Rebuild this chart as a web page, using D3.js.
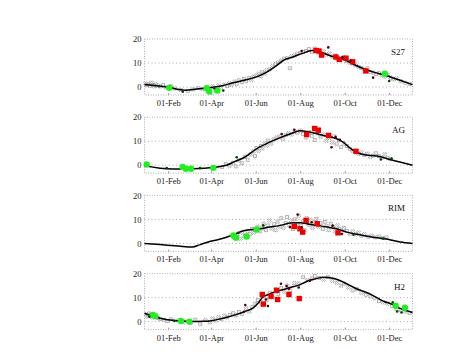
<!DOCTYPE html>
<html><head><meta charset="utf-8">
<script src="https://cdn.jsdelivr.net/npm/d3@7"></script>
<style>body{margin:0;background:#fff}svg{display:block}</style>
</head><body>
<script>
// ---------- data (day of year, value) ----------
const panelNames = ["S27", "AG", "RIM", "H2"];
const monthTicks = ["2001-02-01","2001-04-01","2001-06-01","2001-08-01","2001-10-01","2001-12-01"];
const yTicks = [0, 10, 20];

const lineS27 = [[-1.5,1.0],[15,0.5],[31,0],[45,-1],[55,-1.3],[70,-0.8],[90,-0.2],[105,0.5],[120,1.8],[135,2.8],[150,4],[165,6],[180,9],[190,11.3],[200,12.3],[215,14],[228,15.2],[240,14.5],[255,12.8],[270,11.8],[285,9.5],[300,7.5],[315,6],[330,4.8],[345,3.2],[366,1.0]];
const lineAG = [[-1.5,0],[10,-0.8],[29,-1.5],[45,-1.6],[64,-1.5],[80,-1.3],[92,-1.0],[104,-0.4],[111,0],[122,1.5],[134,3],[152,6.8],[170,9.6],[184,11.4],[198,13],[212,14.4],[225,13.8],[244,12.4],[262,11],[271,9.6],[280,7.2],[289,5.4],[298,4.5],[317,3.8],[335,2.4],[350,1.2],[366,0]];
const lineRIM = [[-1.5,0],[20,-0.5],[45,-1.1],[64,-1.5],[75,-0.5],[88,0.8],[100,1.6],[111,2.6],[122,3.8],[134,5.3],[146,5.8],[157,6.1],[168,6.7],[180,7.2],[190,7.9],[198,8.5],[212,8.6],[224,8.0],[235,7.5],[250,6.8],[262,6.1],[276,4.7],[288,3.9],[298,3.3],[312,2.6],[326,2.0],[338,1.3],[349,0.6],[366,0]];
const lineH2 = [[-1.5,3.5],[8,2.5],[20,1.4],[30,0.8],[43,0.4],[55,0.1],[66,0],[78,0.1],[88,0.3],[102,1.1],[114,2.0],[125,3.0],[136,4.2],[148,5.8],[155,8.0],[161,10.3],[168,11.2],[175,12.1],[184,12.9],[193,13.7],[202,14.5],[212,15.4],[218,16.3],[225,17.2],[234,17.9],[244,18.5],[257,18.1],[271,16.5],[280,15.1],[289,13.7],[296,12.9],[303,12.1],[312,10.8],[321,9.3],[328,8.3],[335,7.6],[342,6.6],[349,5.5],[357,4.6],[366,3.8]];

const grayS27 = [[0,1.5],[2,0.8],[4,1.2],[6,0.5],[8,1.8],[10,0.9],[12,0.3],[14,1.1],[16,0.6],[20,0.2],[24,0.8],[28,-0.2],[35,0.3],[40,-0.6],[48,-1.2],[58,-1.6],[65,-1.0],[72,-0.5],[78,-0.8],[85,-0.3],[92,0.2],[96,-1.0],[100,0.6],[103,-0.3],[108,1.0],[112,0.4],[115,1.5],[118,0.9],[122,2.2],[125,1.3],[128,2.8],[132,2.0],[135,3.4],[138,2.5],[142,3.8],[145,3.0],[148,4.3],[152,4.8],[155,5.5],[158,4.5],[160,6.2],[163,5.6],[166,7.0],[170,7.4],[174,8.6],[178,9.5],[182,10.2],[186,11.0],[190,11.8],[194,12.0],[198,7.8],[200,12.8],[204,13.2],[208,13.9],[212,14.1],[216,14.6],[220,15.0],[224,15.8],[228,14.6],[232,16.0],[236,15.1],[240,13.8],[244,14.8],[248,13.5],[252,14.0],[256,12.6],[260,13.2],[264,12.0],[268,11.5],[272,12.4],[276,10.8],[280,10.2],[284,9.8],[288,9.0],[292,8.4],[296,7.9],[300,7.2],[304,7.8],[308,6.3],[312,6.0],[316,5.4],[320,5.8],[324,4.9],[328,4.4],[332,5.0],[336,3.8],[340,3.2],[344,3.6],[350,2.4],[356,1.8],[362,1.2]];
const grayAG = [[105,-0.8],[110,0.5],[115,-0.3],[120,1.0],[124,-0.5],[128,2.0],[132,0.8],[136,3.5],[140,2.2],[144,4.5],[148,5.8],[150,3.8],[152,7.2],[155,6.0],[158,8.0],[160,7.0],[163,9.0],[166,8.2],[168,10.2],[172,9.0],[176,10.8],[180,11.5],[184,12.0],[188,11.0],[192,12.5],[196,13.3],[200,12.8],[204,14.0],[208,13.5],[212,14.4],[216,13.0],[220,11.5],[224,13.8],[228,12.2],[232,10.5],[236,13.2],[240,11.8],[244,12.8],[248,10.2],[252,11.5],[256,9.5],[258,12.0],[262,8.8],[265,10.5],[268,7.5],[272,9.0],[276,8.0],[280,6.8],[284,6.0],[288,5.5],[292,4.8],[296,5.3],[300,4.2],[304,4.8],[308,3.5],[312,4.0],[316,5.0],[320,3.8],[324,3.2],[328,4.5],[332,3.0],[336,2.5]];
const grayRIM = [[122,2.5],[126,3.8],[130,2.0],[133,4.5],[136,3.2],[140,5.2],[143,3.8],[146,6.0],[148,4.5],[151,5.5],[154,7.0],[157,5.0],[160,6.5],[162,8.2],[165,5.5],[168,7.5],[170,9.5],[173,6.2],[176,8.0],[178,5.5],[181,9.0],[184,7.0],[186,10.5],[189,6.5],[192,8.5],[194,11.0],[197,7.5],[200,9.5],[202,6.0],[205,10.0],[208,8.0],[210,11.5],[213,7.2],[216,9.2],[218,5.5],[221,10.5],[224,7.8],[226,9.8],[229,6.5],[232,8.8],[234,10.2],[237,7.0],[240,8.5],[243,6.0],[246,9.0],[248,7.2],[251,5.5],[254,8.2],[257,6.8],[260,5.0],[263,7.5],[266,6.0],[269,4.5],[272,6.5],[276,5.2],[280,4.0],[284,5.0],[288,3.8],[292,4.5],[296,3.2],[300,3.8],[305,2.8],[310,3.2],[315,2.5],[320,2.9],[325,2.2],[330,2.5]];
const grayH2 = [[1,3.0],[3,2.2],[5,3.4],[7,2.6],[9,1.8],[11,3.0],[14,2.4],[17,1.5],[20,1.0],[25,0.8],[30,0.2],[35,1.0],[45,0.5],[52,-0.2],[62,-0.5],[68,0.8],[75,-1.0],[82,0.6],[88,-0.3],[92,1.2],[96,0.5],[100,1.8],[104,1.0],[108,2.5],[112,1.8],[116,2.8],[120,3.5],[124,2.6],[128,4.0],[132,3.2],[138,5.5],[142,4.2],[146,6.0],[150,7.5],[154,9.0],[158,8.2],[162,10.5],[166,9.0],[170,12.0],[174,10.0],[178,13.5],[182,11.5],[186,14.0],[190,12.5],[194,15.0],[198,13.0],[204,16.0],[210,15.8],[216,18.5],[222,17.2],[228,18.0],[232,19.0],[238,18.2],[244,17.5],[250,18.5],[256,17.0],[262,16.2],[268,15.0],[272,15.8],[278,14.2],[284,13.0],[290,13.5],[296,12.0],[302,11.2],[308,10.5],[314,9.8],[320,8.6],[326,8.0],[332,7.5],[338,6.5],[344,5.2],[350,4.8],[356,4.2],[362,3.6]];

const greenS27 = [[32.5,-0.3],[83.8,-0.5],[87.3,-1.9],[98.3,-1.5],[328,5.5]];
const greenAG = [[1.5,0.3],[50.9,-0.7],[55.4,-1.5],[62.3,-1.5],[92.8,-1.1]];
const greenRIM = [[120.4,3.3],[124,2.4],[138.6,2.9],[152.3,5.8]];
const greenH2 = [[9.7,2.8],[13.3,2.3],[48.5,0.3],[59.9,0],[342.9,6.6],[355.6,5.8]];

const redS27 = [[233.6,15.2],[237.7,15],[241.4,13.3],[261,12.5],[265.6,11.5],[274.8,12],[284,10.5],[302,6.7]];
const redAG = [[220.9,12.8],[231.8,15.3],[236.8,14.6],[251,12.4],[288.5,5.8]];
const redRIM = [[203.9,7.1],[211.7,6.1],[215.4,4.7],[220,9.6],[235.4,8.2],[263.8,4.4]];
const redH2 = [[160,11.3],[161.4,7.3],[172,10.6],[179.8,13],[181.1,9.2],[196.6,11.3],[210.7,9.6]];

const dkRedS27 = [[214,15],[250.5,16.5],[270,12.5],[281,11],[312,3.9]];
const dkRedAG = [[186.6,13],[203.9,14.8],[255,7.5],[260.6,11.8],[266.5,10.5]];
const dkRedRIM = [[198,6.8],[208.6,12],[214,6.5],[227.7,8.8],[256.5,7.4],[268.9,3.9]];
const dkRedH2 = [[134.9,4.1],[136.7,6.9],[165.1,9.2],[167.8,6.5],[185.6,15.8],[193.4,14.8],[196.6,13.7],[209.9,14.2],[225.4,17]];

const dkGreenS27 = [[18.8,0.3],[51,-2],[94,-0.5],[106.5,-1.5],[334,2.5]];
const dkGreenAG = [[29,-1.2],[74.6,-1.2],[124.9,3.3],[322.7,2.4],[337.4,2.8]];
const dkGreenRIM = [[127.2,4.4],[161.4,7.5],[285,3.6],[325.9,2]];
const dkGreenH2 = [[5.1,2],[39.4,0.3],[338.8,8],[345,4.2],[350.9,3.8]];

const panels = [
  {name: panelNames[0], line: lineS27, gray: grayS27, green: greenS27, red: redS27, dkRed: dkRedS27, dkGreen: dkGreenS27},
  {name: panelNames[1], line: lineAG, gray: grayAG, green: greenAG, red: redAG, dkRed: dkRedAG, dkGreen: dkGreenAG},
  {name: panelNames[2], line: lineRIM, gray: grayRIM, green: greenRIM, red: redRIM, dkRed: dkRedRIM, dkGreen: dkGreenRIM},
  {name: panelNames[3], line: lineH2, gray: grayH2, green: greenH2, red: redH2, dkRed: dkRedH2, dkGreen: dkGreenH2}
];

// ---------- layout ----------
const W = 476, H = 357;
const left = 144.5, right = 412.5;
const panelTop0 = 39, panelStep = 78.2, panelH = 56;
const jan1 = new Date(2001, 0, 1);
const dayToDate = d => new Date(jan1.getTime() + d * 86400000);
const parse = d3.timeParse("%Y-%m-%d");
const fmt = d3.timeFormat("%d-%b");
const serif = "'Liberation Serif','Times New Roman',serif";

const svg = d3.select("body").append("svg").attr("width", W).attr("height", H)
  .style("background", "#fff");

const x = d3.scaleTime().domain([dayToDate(-1.5), dayToDate(366)]).range([left, right]);

panels.forEach((p, i) => {
  const top = panelTop0 + i * panelStep;
  const y = d3.scaleLinear().domain([-3.33, 20]).range([top + panelH, top]);
  const g = svg.append("g");

  // grid lines
  g.selectAll("line.grid").data([0, 10]).join("line")
    .attr("x1", left).attr("x2", right)
    .attr("y1", d => y(d)).attr("y2", d => y(d))
    .attr("stroke", "#999").attr("stroke-width", 0.8).attr("stroke-dasharray", "1,2.5");

  // frame
  g.append("rect").attr("x", left).attr("y", top).attr("width", right - left).attr("height", panelH)
    .attr("fill", "none").attr("stroke", "#999").attr("stroke-width", 0.8).attr("stroke-dasharray", "1,1.5");

  // axes
  const yAxis = d3.axisLeft(y).tickValues(yTicks).tickSize(0).tickPadding(3).tickFormat(d3.format("d"));
  const ya = g.append("g").attr("transform", `translate(${left},0)`).call(yAxis);
  ya.select(".domain").remove();
  ya.selectAll("text").attr("font-family", serif).attr("font-size", 8.5).attr("fill", "#222");

  const xAxis = d3.axisBottom(x).tickValues(monthTicks.map(parse)).tickSize(-2).tickPadding(5).tickFormat(fmt);
  const xa = g.append("g").attr("transform", `translate(0,${top + panelH})`).call(xAxis);
  xa.select(".domain").remove();
  xa.selectAll("line").attr("stroke", "#999");
  xa.selectAll("text").attr("font-family", serif).attr("font-size", 8.5).attr("fill", "#222");

  // gray points (small crosses)
  const cross = d3.symbol().type(d3.symbolCross).size(9);
  g.selectAll("path.gray").data(p.gray).join("path")
    .attr("d", cross)
    .attr("transform", d => `translate(${x(dayToDate(d[0]))},${y(d[1])}) rotate(45)`)
    .attr("fill", "none").attr("stroke", "#999").attr("stroke-width", 0.8);

  // line
  const line = d3.line().x(d => x(dayToDate(d[0]))).y(d => y(d[1])).curve(d3.curveMonotoneX);
  g.append("path").datum(p.line).attr("d", line)
    .attr("fill", "none").attr("stroke", "#000").attr("stroke-width", 1.5);

  // green circles
  g.selectAll("circle.green").data(p.green).join("circle")
    .attr("cx", d => x(dayToDate(d[0]))).attr("cy", d => y(d[1])).attr("r", 3.2)
    .attr("fill", "#22ee22");

  // red squares
  g.selectAll("rect.red").data(p.red).join("rect")
    .attr("x", d => x(dayToDate(d[0])) - 2.7).attr("y", d => y(d[1]) - 2.7)
    .attr("width", 5.4).attr("height", 5.4).attr("fill", "#ee0000");

  // small dark points
  g.selectAll("circle.dkred").data(p.dkRed).join("circle")
    .attr("cx", d => x(dayToDate(d[0]))).attr("cy", d => y(d[1])).attr("r", 1.3)
    .attr("fill", "#550000");
  g.selectAll("circle.dkgreen").data(p.dkGreen).join("circle")
    .attr("cx", d => x(dayToDate(d[0]))).attr("cy", d => y(d[1])).attr("r", 1.3)
    .attr("fill", "#004400");

  // panel label
  g.append("text").attr("x", 405).attr("y", top + 16).attr("text-anchor", "end")
    .attr("font-family", serif).attr("font-size", 9).attr("fill", "#111").text(p.name);
});
</script>
</body></html>
